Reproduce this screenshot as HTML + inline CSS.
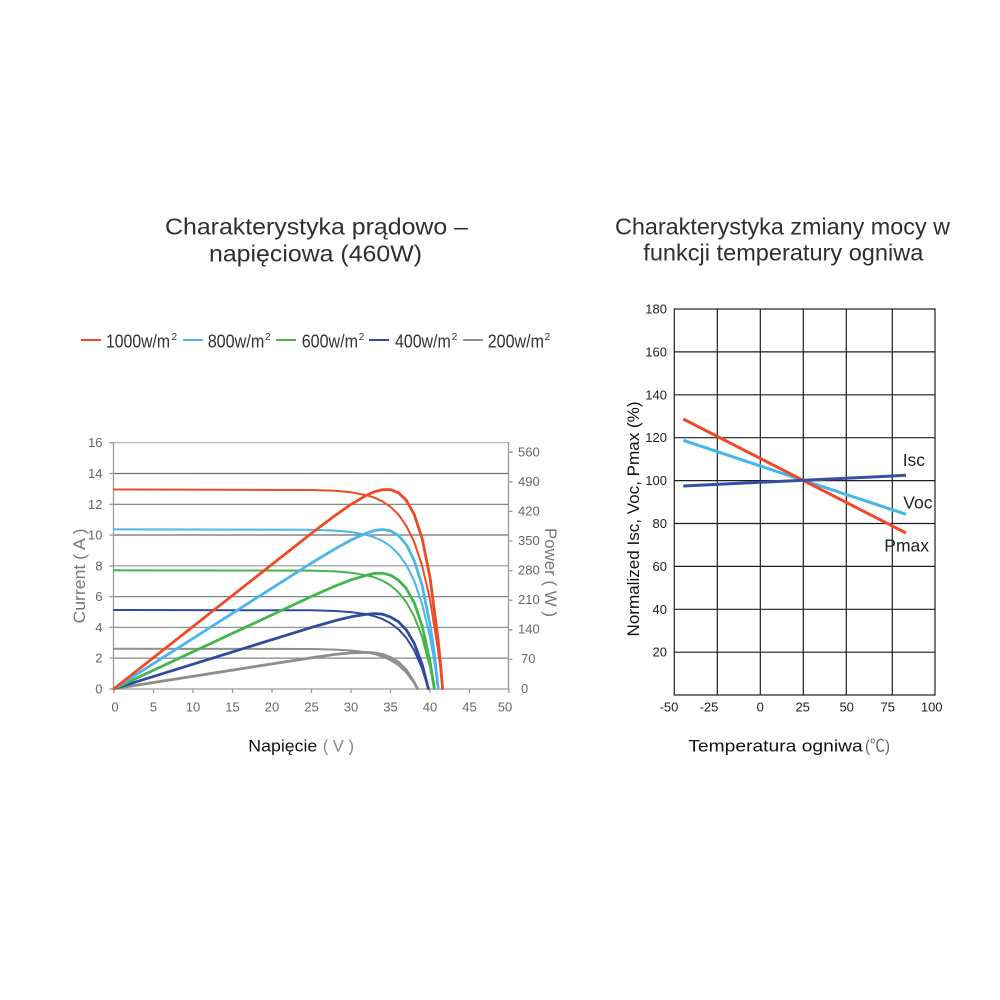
<!DOCTYPE html>
<html><head><meta charset="utf-8"><style>
html,body{margin:0;padding:0;background:#fff;}
svg{display:block;}
</style></head><body>
<svg width="1000" height="1000" viewBox="0 0 1000 1000" xmlns="http://www.w3.org/2000/svg" font-family="Liberation Sans, Arial, sans-serif">
<rect width="1000" height="1000" fill="#fff"/>

<!-- Titles -->
<text x="165" y="234.3" font-size="23" fill="#2f2f2f" textLength="303" lengthAdjust="spacingAndGlyphs">Charakterystyka prądowo –</text>
<text x="209" y="261.7" font-size="23" fill="#2f2f2f" textLength="213" lengthAdjust="spacingAndGlyphs">napięciowa (460W)</text>
<text x="615" y="234.5" font-size="23" fill="#2f2f2f" textLength="335" lengthAdjust="spacingAndGlyphs">Charakterystyka zmiany mocy w</text>
<text x="643.3" y="260.5" font-size="23" fill="#2f2f2f" textLength="280" lengthAdjust="spacingAndGlyphs">funkcji temperatury ogniwa</text>

<!-- Legend -->
<g stroke-width="2">
<line x1="81" y1="340" x2="101" y2="340" stroke="#ef4a26"/>
<line x1="183" y1="340" x2="203" y2="340" stroke="#4ab7e8"/>
<line x1="276" y1="340" x2="296" y2="340" stroke="#43b649"/>
<line x1="369" y1="340" x2="389" y2="340" stroke="#2f4aa0"/>
<line x1="463" y1="340" x2="483" y2="340" stroke="#8e8e8e"/>
</g>
<g font-size="18" fill="#333">
<text x="106" y="347.5" textLength="64" lengthAdjust="spacingAndGlyphs">1000w/m</text>
<text x="207.7" y="347.5" textLength="56.6" lengthAdjust="spacingAndGlyphs">800w/m</text>
<text x="301.7" y="347.5" textLength="56.3" lengthAdjust="spacingAndGlyphs">600w/m</text>
<text x="395" y="347.5" textLength="55.7" lengthAdjust="spacingAndGlyphs">400w/m</text>
<text x="487.7" y="347.5" textLength="56.3" lengthAdjust="spacingAndGlyphs">200w/m</text>
</g>
<g font-size="10" fill="#333">
<text x="171.5" y="340">2</text>
<text x="265" y="340">2</text>
<text x="358.7" y="340">2</text>
<text x="451.7" y="340">2</text>
<text x="544.5" y="340">2</text>
</g>

<!-- Left chart grid -->
<g stroke-width="1.2">
<line x1="114" y1="442.7" x2="508.5" y2="442.7" stroke="#b0b4b6"/>
<line x1="114" y1="473.5" x2="508.5" y2="473.5" stroke="#6b7275"/>
<line x1="114" y1="504.3" x2="508.5" y2="504.3" stroke="#737a7d"/>
<line x1="114" y1="535" x2="508.5" y2="535" stroke="#6b7275"/>
<line x1="114" y1="565.8" x2="508.5" y2="565.8" stroke="#8f9598"/>
<line x1="114" y1="596.6" x2="508.5" y2="596.6" stroke="#80878a"/>
<line x1="114" y1="627.4" x2="508.5" y2="627.4" stroke="#8f9598"/>
<line x1="114" y1="658.1" x2="508.5" y2="658.1" stroke="#80878a"/>
</g>
<g stroke="#9a9a9a" stroke-width="1.3" fill="none">
<line x1="113.5" y1="442" x2="113.5" y2="689.5"/>
<line x1="508.5" y1="442" x2="508.5" y2="689.5"/>
<line x1="113" y1="689" x2="509" y2="689"/>
<path d="M109.5,442.7H113.5M109.5,473.5H113.5M109.5,504.3H113.5M109.5,535H113.5M109.5,565.8H113.5M109.5,596.6H113.5M109.5,627.4H113.5M109.5,658.1H113.5M109.5,689H113.5"/>
<path d="M114,689V693M153.5,689V693M193,689V693M232.5,689V693M272,689V693M311.5,689V693M351,689V693M390.5,689V693M430,689V693M469.5,689V693M509,689V693"/>
<path d="M508.5,452.2H512.5M508.5,481.8H512.5M508.5,511.4H512.5M508.5,541H512.5M508.5,570.6H512.5M508.5,600.2H512.5M508.5,629.8H512.5M508.5,659.4H512.5"/>
</g>

<!-- Left y labels -->
<g font-size="13" fill="#666" text-anchor="end">
<text x="102.5" y="447.2">16</text>
<text x="102.5" y="478">14</text>
<text x="102.5" y="508.8">12</text>
<text x="102.5" y="539.5">10</text>
<text x="102.5" y="570.3">8</text>
<text x="102.5" y="601.1">6</text>
<text x="102.5" y="631.9">4</text>
<text x="102.5" y="662.6">2</text>
<text x="102.5" y="693.4">0</text>
</g>
<!-- Left x labels -->
<g font-size="13" fill="#666" text-anchor="middle">
<text x="115" y="711.5">0</text>
<text x="153.5" y="711.5">5</text>
<text x="193" y="711.5">10</text>
<text x="232.5" y="711.5">15</text>
<text x="272" y="711.5">20</text>
<text x="311.5" y="711.5">25</text>
<text x="351" y="711.5">30</text>
<text x="390.5" y="711.5">35</text>
<text x="430" y="711.5">40</text>
<text x="469.5" y="711.5">45</text>
<text x="505" y="711.5">50</text>
</g>
<!-- Right power labels -->
<g font-size="13" fill="#666">
<text x="518" y="456.5">560</text>
<text x="518" y="486">490</text>
<text x="518" y="515.5">420</text>
<text x="518" y="545">350</text>
<text x="518" y="574.5">280</text>
<text x="518" y="604">210</text>
<text x="518" y="633.5">140</text>
<text x="521" y="663">70</text>
<text x="521" y="693">0</text>
</g>
<text transform="translate(85,576) rotate(-90)" font-size="17" fill="#777" text-anchor="middle" textLength="95" lengthAdjust="spacingAndGlyphs">Current ( A )</text>
<text transform="translate(545,572.5) rotate(90)" font-size="17" fill="#777" text-anchor="middle" textLength="89" lengthAdjust="spacingAndGlyphs">Power ( W )</text>

<text x="248.3" y="751.7" font-size="17" fill="#111" textLength="69" lengthAdjust="spacingAndGlyphs">Napięcie</text>
<text x="322.7" y="751.7" font-size="17" fill="#888" textLength="31.3" lengthAdjust="spacingAndGlyphs">( V )</text>

<!-- Left curves -->
<g fill="none" stroke-linejoin="round" stroke-linecap="round">
<g stroke="#8e8e8e">
<path stroke-width="2" d="M114,648.7 L311.5,649 L335.2,649.6 L351,650.5 L366.8,652.4 L374.7,654.1 L382.6,656.6 L390.5,660.1 L398.4,665.2 L406.3,672.5 L414.2,683.2 L417.4,688.7"/>
<path stroke-width="2.8" d="M114,688.7 L311.5,657.7 L335.2,654.4 L351,652.9 L366.8,652.4 L374.7,653 L382.6,654.5 L390.5,657.4 L398.4,662.2 L406.3,670 L414.2,682.2 L417.4,688.7"/>
</g>
<g stroke="#2f4aa0">
<path stroke-width="2" d="M114,610 L311.5,610.3 L335.2,611 L351,612.1 L366.8,614.3 L374.7,616.3 L382.6,619.1 L390.5,623.3 L398.4,629.2 L406.3,637.9 L414.2,650.4 L422.1,668.5 L428.4,688.7"/>
<path stroke-width="2.8" d="M114,688.7 L311.5,627.4 L335.2,620.6 L351,616.8 L366.8,614.3 L374.7,613.6 L382.6,614.2 L390.5,617.1 L398.4,621.7 L406.3,629.9 L414.2,643.2 L422.1,664.1 L428.4,688.7"/>
</g>
<g stroke="#43b649">
<path stroke-width="2" d="M114,570.3 L311.5,570.6 L335.2,571.4 L351,572.7 L366.8,575.3 L374.7,577.5 L382.6,580.7 L390.5,585.4 L398.4,592.3 L406.3,602.1 L414.2,616.4 L422.1,637 L430,666.9 L434.3,688.7"/>
<path stroke-width="2.8" d="M114,688.7 L311.5,596.4 L335.2,586 L351,579.8 L366.8,575.2 L374.7,573.4 L382.6,573.2 L390.5,575.2 L398.4,580.1 L406.3,588.5 L414.2,602.8 L422.1,625.7 L430,661.4 L434.3,688.7"/>
</g>
<g stroke="#4ab7e8">
<path stroke-width="2" d="M114,529.4 L311.5,529.8 L335.2,530.6 L351,532 L366.8,534.9 L374.7,537.5 L382.6,541.1 L390.5,546.3 L398.4,554 L406.3,564.9 L414.2,580.9 L422.1,604 L430,637.3 L434,659.3 L438.3,688.7"/>
<path stroke-width="2.8" d="M114,688.7 L311.5,563 L335.2,548.8 L351,540 L366.8,533 L374.7,530.5 L382.6,529.5 L390.5,530.8 L398.4,535.5 L406.3,544.5 L414.2,560.6 L422.1,585.3 L430,624.4 L434,651.5 L438.3,688.7"/>
</g>
<g stroke="#ef4a26">
<path stroke-width="2" d="M114,489.5 L311.5,490 L335.2,490.8 L351,492.3 L366.8,495.2 L374.7,497.8 L382.6,501.5 L390.5,506.8 L398.4,514.6 L406.3,525.8 L414.2,542 L422.1,565.5 L430,599.7 L437.9,649 L440.3,667.8 L442.6,688.7"/>
<path stroke-width="2.8" d="M114,688.7 L311.5,533.3 L335.2,515.4 L351,504.4 L366.8,495.1 L374.7,491.7 L382.6,489.7 L390.5,489.6 L398.4,492.7 L406.3,500.2 L414.2,514.3 L422.1,538.4 L430,577.3 L437.9,637.8 L440.3,661.7 L442.6,688.7"/>
</g>
</g>

<!-- Right chart grid -->
<g stroke="#1e1e1e" stroke-width="1.2" fill="none">
<rect x="674.3" y="309" width="260.7" height="386"/>
<path d="M717.3,309V695M760.3,309V695M803.3,309V695M846.3,309V695M892.3,309V695"/>
<path d="M674.3,351.9H935M674.3,394.8H935M674.3,437.7H935M674.3,480.6H935M674.3,523.5H935M674.3,566.4H935M674.3,609.3H935M674.3,652.2H935"/>
</g>
<g font-size="13" fill="#222" text-anchor="end">
<text x="667" y="313.5">180</text>
<text x="667" y="356.4">160</text>
<text x="667" y="399.3">140</text>
<text x="667" y="442.2">120</text>
<text x="667" y="485.1">100</text>
<text x="667" y="528">80</text>
<text x="667" y="570.9">60</text>
<text x="667" y="613.8">40</text>
<text x="667" y="656.7">20</text>
</g>
<g font-size="13" fill="#222" text-anchor="middle">
<text x="669" y="711.5">-50</text>
<text x="709" y="711.5">-25</text>
<text x="760.3" y="711.5">0</text>
<text x="802.7" y="711.5">25</text>
<text x="846.7" y="711.5">50</text>
<text x="887.7" y="711.5">75</text>
<text x="931.7" y="711.5">100</text>
</g>
<text transform="translate(639,519) rotate(-90)" font-size="17" fill="#111" text-anchor="middle" textLength="235" lengthAdjust="spacingAndGlyphs">Normalized Isc, Voc, Pmax (%)</text>

<g fill="none" stroke-width="3" stroke-linecap="butt">
<path stroke="#45b6e6" d="M683.3,440.3 L803.3,480.3 L906,514.3"/>
<path stroke="#f0492a" d="M683.3,419 L906,533"/>
<path stroke="#3550a6" d="M683.3,486 L906,475.3"/>
</g>
<g font-size="17.5" fill="#222">
<text x="902.7" y="466">Isc</text>
<text x="903.3" y="508.3">Voc</text>
<text x="884.3" y="551.7">Pmax</text>
</g>

<text x="688.3" y="751.7" font-size="17" fill="#111" textLength="174.4" lengthAdjust="spacingAndGlyphs">Temperatura ogniwa</text>
<text x="865" y="751.7" font-size="17" fill="#666" font-family="Liberation Sans, Noto Sans CJK SC, sans-serif" textLength="25" lengthAdjust="spacingAndGlyphs">(℃)</text>
</svg>
</body></html>
